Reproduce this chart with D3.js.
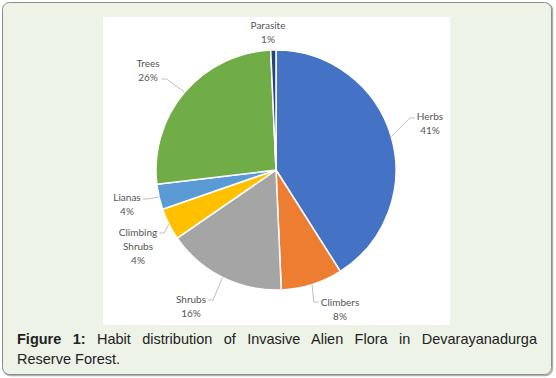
<!DOCTYPE html>
<html>
<head>
<meta charset="utf-8">
<script src="https://cdn.jsdelivr.net/npm/d3@7"></script>
<style>
  body { margin: 0; background: #fff; }
  #wrap { position: relative; width: 556px; height: 378px; }
  #caption {
    position: absolute; left: 17px; top: 330px; width: 520px;
    font-family: "Liberation Sans", Arial, sans-serif; font-size: 14.5px;
    line-height: 19.5px; color: #222;
  }
  #caption .l1 { text-align: justify; text-align-last: justify; white-space: nowrap; }
  #caption b { font-weight: bold; }
</style>
</head>
<body>
<div id="wrap">
  <div id="chart"></div>
  <div id="caption"><div class="l1"><b>Figure 1:</b> Habit distribution of Invasive Alien Flora in Devarayanadurga</div><div>Reserve Forest.</div></div>
</div>
<script>
const categories = ["Herbs", "Climbers", "Shrubs", "Climbing Shrubs", "Lianas", "Trees", "Parasite"];
const shares = [41.0, 8.3, 16.1, 4.3, 3.4, 26.2, 0.7];
const pctLabels = ["41%", "8%", "16%", "4%", "4%", "26%", "1%"];

const colors = ["#4472C4", "#ED7D31", "#A5A5A5", "#FFC000", "#5B9BD5", "#70AD47", "#264478"];

// label centres relative to the pie centre, leader y offset, and side of leader
const labelLayout = {
  "Herbs":           { dx: 154, dy: -47, ly: -5, side: "right" },
  "Climbers":        { dx: 64,  dy: 139, ly: -7, side: "right" },
  "Shrubs":          { dx: -85, dy: 136, ly: -6, side: "left" },
  "Climbing Shrubs": { dx: -138, dy: 76, ly: -13, side: "left" },
  "Lianas":          { dx: -149, dy: 34, ly: -5, side: "left" },
  "Trees":           { dx: -128, dy: -100, ly: 9, side: "left" },
  "Parasite":        { dx: -8,  dy: -138, ly: 0, side: "none" }
};

const W = 556, H = 378;
const cx = 276, cy = 170, r = 120;

const svg = d3.select("#chart").append("svg")
  .attr("width", W).attr("height", H)
  .style("position", "absolute").style("left", 0).style("top", 0);

// frame
svg.append("rect")
  .attr("x", 3.5).attr("y", 3.5).attr("width", 549).attr("height", 372)
  .attr("rx", 7).attr("fill", "none").attr("stroke", "#b0b0b0").attr("stroke-width", 1.5);
svg.append("rect")
  .attr("x", 2.5).attr("y", 2.5).attr("width", 549).attr("height", 372)
  .attr("rx", 7).attr("fill", "#eef3e7").attr("stroke", "#8c8c8c").attr("stroke-width", 1);

// white chart area
svg.append("rect")
  .attr("x", 103).attr("y", 17).attr("width", 347).attr("height", 308)
  .attr("fill", "#fff");

const g = svg.append("g").attr("transform", `translate(${cx},${cy})`);

const pie = d3.pie().sort(null).value(d => d.v);
const arcs = pie(categories.map((c, i) => ({ c, v: shares[i], p: pctLabels[i], col: colors[i] })));
const arc = d3.arc().innerRadius(0).outerRadius(r);
const edgeArc = d3.arc().innerRadius(r).outerRadius(r);

g.selectAll("path.slice")
  .data(arcs)
  .enter().append("path")
  .attr("class", "slice")
  .attr("d", arc)
  .attr("fill", d => d.data.col)
  .attr("stroke", "#fff")
  .attr("stroke-width", 1.5)
  .attr("stroke-linejoin", "round");

const labels = g.selectAll("g.lbl")
  .data(arcs)
  .enter().append("g")
  .attr("class", "lbl");

const lineH = 14;
labels.each(function(d) {
  const L = labelLayout[d.data.c];
  const lines = d.data.c.split(" ").concat([d.data.p]);
  const t = d3.select(this).append("text")
    .attr("text-anchor", "middle")
    .style("font-family", "Lato, 'Open Sans', sans-serif")
    .style("font-size", "10px")
    .attr("fill", "#555");
  const y0 = L.dy - (lines.length - 1) * lineH / 2;
  lines.forEach((s, k) => {
    t.append("tspan")
      .attr("x", L.dx)
      .attr("y", y0 + k * lineH)
      .attr("dy", "0.35em")
      .text(s);
  });
  if (L.side === "none") return;
  const bb = t.node().getBBox();
  const [ex, ey] = edgeArc.centroid(d);
  const yl = L.dy + L.ly;
  let endX, elbowX;
  if (L.side === "right") {
    endX = bb.x - 2;
    elbowX = endX - 5;
  } else {
    endX = bb.x + bb.width + 2;
    elbowX = endX + 5;
  }
  d3.select(this).insert("path", "text")
    .attr("d", d3.line()([[ex, ey], [elbowX, yl], [endX, yl]]))
    .attr("fill", "none")
    .attr("stroke", "#bfbfbf")
    .attr("stroke-width", 1);
});
</script>
</body>
</html>
